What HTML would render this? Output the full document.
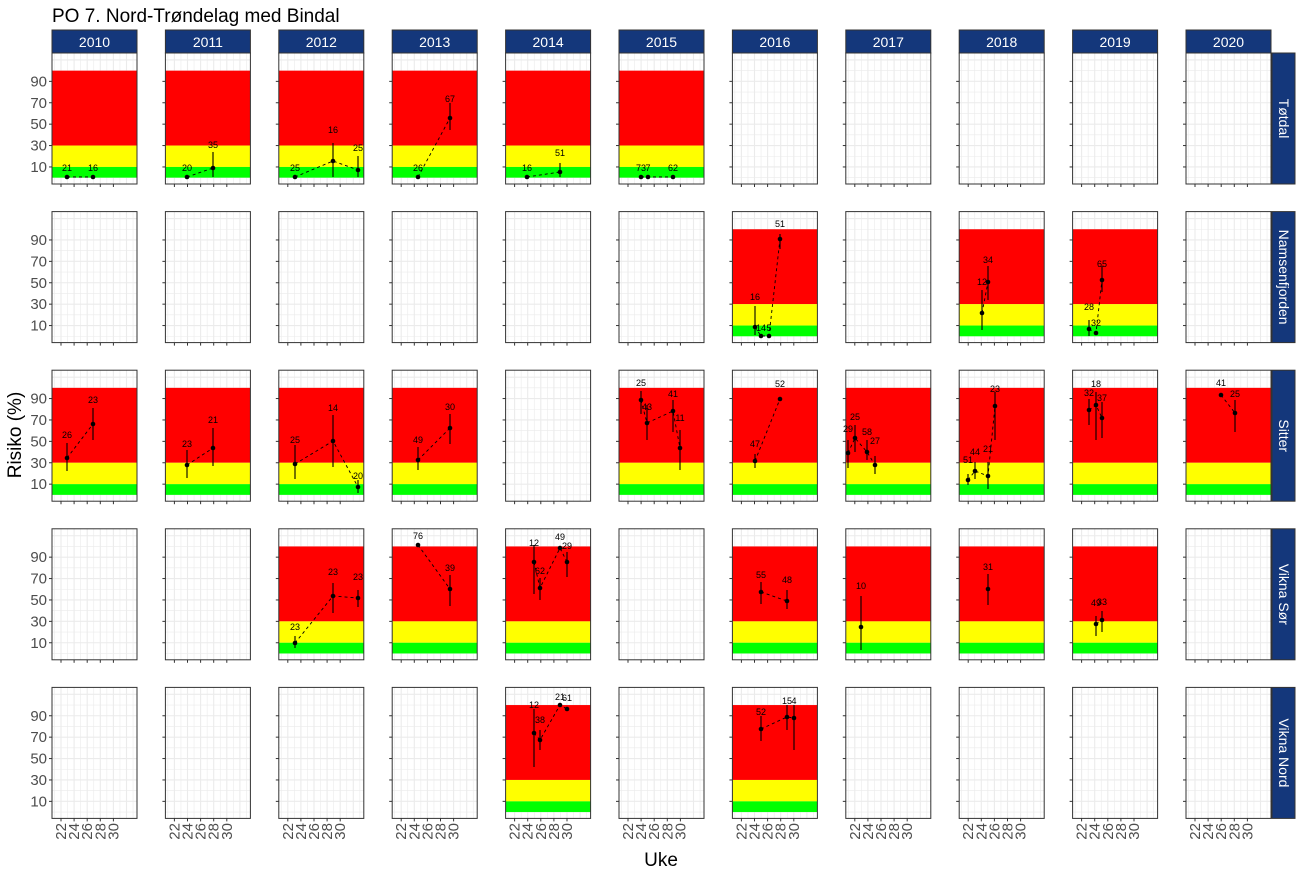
<!DOCTYPE html>
<html><head><meta charset="utf-8"><style>
html,body{margin:0;padding:0;background:#fff;width:1300px;height:870px;overflow:hidden}
svg{display:block;font-family:"Liberation Sans",sans-serif}
</style></head><body>
<svg id="s" width="1300" height="870" xmlns="http://www.w3.org/2000/svg">
<text x="52" y="22" font-size="19" fill="#000">PO 7. Nord-Trøndelag med Bindal</text>
<text transform="translate(21,435) rotate(-90)" font-size="19" text-anchor="middle">Risiko (%)</text>
<text x="661" y="866" font-size="19" text-anchor="middle">Uke</text>
<g id="g"></g>
</svg>
<script>
var years=["2010","2011","2012","2013","2014","2015","2016","2017","2018","2019","2020"];
var rows=["Tøtdal","Namsenfjorden","Sitter","Vikna Sør","Vikna Nord"];
var zones=[[0,1,2,3,4,5],[6,8,9],[0,1,2,3,5,6,7,8,9,10],[2,3,4,6,7,8,9],[4,6]];
var tops=[53,211.6,370.2,528.8,687.4];
var PH=131,PW=85,X0=52,XS=113.4;
function Y(r,v){return tops[r]+(116.5-v)*1.07;}
var D=[
[0,[[67,177,0,0,"21",171],[93,177,0,0,"16",171]]],
[0,[[187,177,0,0,"20",171],[213,168,152,177,"35",148]]],
[0,[[295,177,0,0,"25",171],[333,161,143,177,"16",133],[358,170,156,177,"25",151]]],
[0,[[418,177,0,0,"26",171],[450,118,103,130,"67",102]]],
[0,[[527,177,0,0,"16",171],[560,172,163,177,"51",156]]],
[0,[[641,177,0,0,"73",171],[648,177,0,0,"7",171],[673,177,0,0,"62",171]]],
[1,[[755,327,306,335,"16",300],[761,336,0,0,"14",331],[769,336,0,0,"5",331],[780,239,234,249,"51",227]]],
[1,[[982,313,290,330,"12",285],[988,282,266,300,"34",263]]],
[1,[[1089,329,320,336,"28",310],[1096,333,0,0,"32",326],[1102,280,266,292,"65",267]]],
[2,[[67,458,443,471,"26",438],[93,424,408,440,"23",403]]],
[2,[[187,465,450,478,"23",447],[213,448,428,466,"21",423]]],
[2,[[295,464,445,479,"25",443],[333,441,415,467,"14",411],[358,487,480,493,"20",479]]],
[2,[[418,460,447,470,"49",443],[450,428,414,444,"30",410]]],
[2,[[641,400,391,414,"25",386],[647,423,405,440,"43",410],[673,411,400,432,"41",397],[680,448,430,470,"11",421]]],
[2,[[755,461,454,468,"47",447],[780,399,0,0,"52",387]]],
[2,[[848,453,440,468,"29",432],[855,438,425,452,"25",420],[867,452,440,460,"58",435],[875,465,456,474,"27",444]]],
[2,[[968,480,474,485,"51",463],[975,471,462,479,"44",455],[988,476,462,489,"21",452],[995,406,392,440,"23",392]]],
[2,[[1089,410,399,425,"32",396],[1096,405,392,440,"18",387],[1102,418,402,438,"37",401]]],
[2,[[1221,395,0,0,"41",386],[1235,413,400,432,"25",397]]],
[3,[[295,643,636,648,"23",630],[333,596,583,613,"23",575],[358,598,590,607,"23",580]]],
[3,[[418,545,0,0,"76",539],[450,589,575,606,"39",571]]],
[3,[[534,562,545,594,"12",546],[540,588,578,600,"62",574],[560,548,0,0,"49",540],[567,562,552,577,"29",549]]],
[3,[[761,592,582,604,"55",578],[787,601,590,609,"48",583]]],
[3,[[861,627,596,650,"10",589]]],
[3,[[988,589,574,605,"31",570]]],
[3,[[1096,624,616,636,"49",606],[1102,620,611,632,"33",605]]],
[4,[[534,733,709,767,"12",708],[540,740,730,750,"38",723],[560,705,0,0,"21",700],[567,709,0,0,"61",701]]],
[4,[[761,729,716,741,"52",715],[787,717,705,730,"15",704],[794,718,705,750,"4",704]]]
];
var h=[];
for(var c=0;c<11;c++){var x=X0+c*XS;
 h.push('<rect x="'+x+'" y="30" width="'+PW+'" height="23" fill="#14377b" stroke="#333" stroke-width="1"/>');
 h.push('<text x="'+(x+PW/2)+'" y="47" font-size="14" fill="#fff" text-anchor="middle">'+years[c]+'</text>');
}
for(var r=0;r<5;r++){var t=tops[r];
 h.push('<rect x="1272" y="'+t+'" width="23" height="'+PH+'" fill="#14377b" stroke="#333" stroke-width="1"/>');
 h.push('<text transform="translate(1279,'+(t+PH/2)+') rotate(90)" font-size="14" fill="#fff" text-anchor="middle">'+rows[r]+'</text>');
 for(var v=10;v<=90;v+=20){h.push('<text x="47" y="'+(Y(r,v)+5)+'" font-size="15" fill="#4d4d4d" text-anchor="end">'+v+'</text>');}
 for(var c=0;c<11;c++){var x=X0+c*XS;
  h.push('<rect x="'+x+'" y="'+t+'" width="'+PW+'" height="'+PH+'" fill="#fff"/>');
  for(var w=21;w<=33;w++){var gx=x+9+(w-22)*6.55;h.push('<line x1="'+gx+'" x2="'+gx+'" y1="'+t+'" y2="'+(t+PH)+'" stroke="#ebebeb" stroke-width="'+(w%2?0.6:1.1)+'"/>');}
  for(var v=0;v<=110;v+=10){var gy=Y(r,v);h.push('<line x1="'+x+'" x2="'+(x+PW)+'" y1="'+gy+'" y2="'+gy+'" stroke="#ebebeb" stroke-width="'+(v%20?1.1:0.6)+'"/>');}
  if(zones[r].indexOf(c)>=0){
   h.push('<rect x="'+x+'" y="'+Y(r,100)+'" width="'+PW+'" height="'+(Y(r,30)-Y(r,100))+'" fill="#ff0000"/>');
   h.push('<rect x="'+x+'" y="'+Y(r,30)+'" width="'+PW+'" height="'+(Y(r,10)-Y(r,30))+'" fill="#ffff00"/>');
   h.push('<rect x="'+x+'" y="'+Y(r,10)+'" width="'+PW+'" height="'+(Y(r,0)-Y(r,10))+'" fill="#00ff00"/>');
  }
  h.push('<rect x="'+x+'" y="'+t+'" width="'+PW+'" height="'+PH+'" fill="none" stroke="#333" stroke-width="1"/>');
  for(var v=10;v<=90;v+=20){var gy=Y(r,v);h.push('<line x1="'+(x-3)+'" x2="'+x+'" y1="'+gy+'" y2="'+gy+'" stroke="#333"/>');}
  for(var w=22;w<=30;w+=2){var gx=x+9+(w-22)*6.55;h.push('<line x1="'+gx+'" x2="'+gx+'" y1="'+(t+PH)+'" y2="'+(t+PH+3)+'" stroke="#333"/>');}
 }
}
for(var c=0;c<11;c++){var x=X0+c*XS;
 for(var w=22;w<=30;w+=2){var gx=x+9+(w-22)*6.55;h.push('<text transform="translate('+(gx+5)+',823) rotate(-90)" font-size="15" fill="#4d4d4d" text-anchor="end">'+w+'</text>');}
}
D.forEach(function(d){var p=d[1];
 if(p.length>1){var pts=p.map(function(q){return q[0]+','+q[1];}).join(' ');h.push('<polyline points="'+pts+'" fill="none" stroke="#000" stroke-width="0.9" stroke-dasharray="3,3"/>');}
 p.forEach(function(q){
  if(q[2]){h.push('<line x1="'+q[0]+'" x2="'+q[0]+'" y1="'+q[2]+'" y2="'+q[3]+'" stroke="#000" stroke-width="1.1"/>');}
  h.push('<circle cx="'+q[0]+'" cy="'+q[1]+'" r="2.3" fill="#000"/>');
  h.push('<text x="'+q[0]+'" y="'+q[5]+'" font-size="9" fill="#000" text-anchor="middle">'+q[4]+'</text>');
 });
});
document.getElementById('g').innerHTML=h.join('');
</script>
</body></html>
